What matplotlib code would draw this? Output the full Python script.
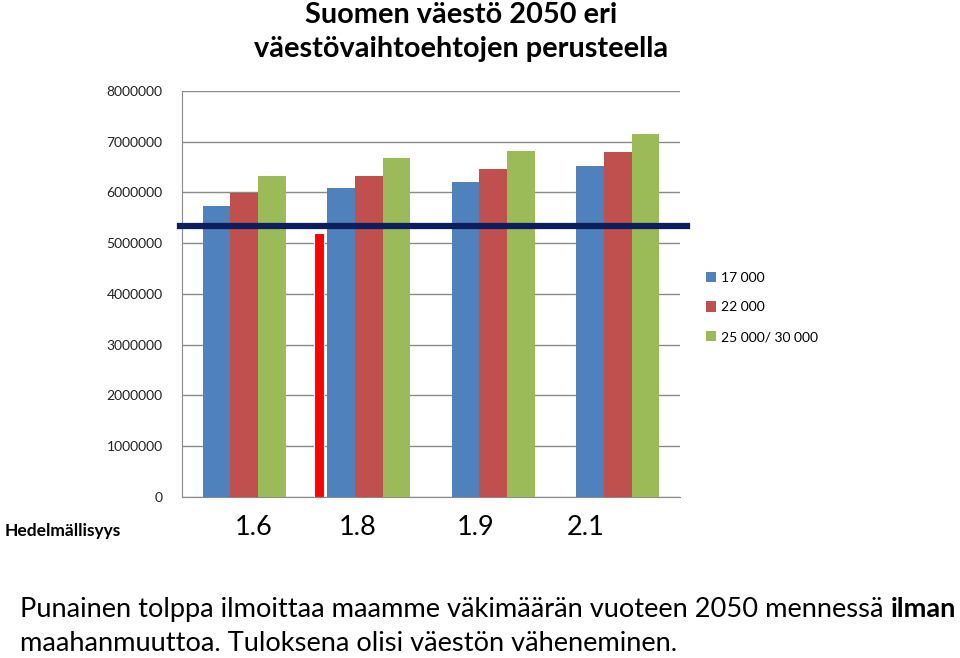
import matplotlib.pyplot as plt
import numpy as np

# väestö 2050 (milj.) eri nettomaahanmuuton tasoilla
fertility = ["1.6", "1.8", "1.9", "2.1"]
series_names = ["17 000", "22 000", "25 000/ 30 000"]
pop_17k = [5740000, 6080000, 6210000, 6520000]
pop_22k = [5990000, 6330000, 6460000, 6790000]
pop_30k = [6320000, 6670000, 6810000, 7150000]
now_level = 5330000          # tumma vaakaviiva
no_migration = 5200000       # punainen tolppa
yticks = [0, 1000000, 2000000, 3000000, 4000000, 5000000, 6000000, 7000000, 8000000]

colors = ["#4f81bd", "#c0504d", "#9bbb59"]

plt.rcParams['font.family'] = ['Lato', 'DejaVu Sans']

fig = plt.figure(figsize=(9.6, 6.58), dpi=100)
ax = fig.add_axes([0.1896, 0.2447, 0.5187, 0.617])

x = np.arange(len(fertility))
w = 0.222
for i, vals in enumerate([pop_17k, pop_22k, pop_30k]):
    ax.bar(x + (i - 1) * w, vals, width=w, color=colors[i], label=series_names[i], zorder=3)

# punainen tolppa: ei maahanmuuttoa
ax.bar(0.603, no_migration, width=0.08, color="#ff0000", edgecolor="white", linewidth=0.8, zorder=4)

ax.axhline(now_level, xmin=-0.005, xmax=1.015, color="#0c1f5c", linewidth=4.5, zorder=5, clip_on=False)

ax.set_xlim(-0.5, 3.5)
ax.set_ylim(0, 8000000)
ax.set_yticks(yticks)
ax.set_yticklabels([str(v) for v in yticks], fontsize=10, color="#222222")
ax.tick_params(axis='y', length=0, pad=14)
ax.set_xticks([])
ax.grid(axis='y', color="#8a8a8a", linewidth=1, zorder=0)
for s in ["top", "right"]:
    ax.spines[s].set_visible(False)
ax.spines["left"].set_color("#8a8a8a")
ax.spines["bottom"].set_color("#8a8a8a")

leg = ax.legend(loc="upper left", bbox_to_anchor=(1.027, 0.586), frameon=False, fontsize=10,
                handlelength=0.75, handleheight=0.75, handletextpad=0.35, labelspacing=1.28)

fig.text(0.48, 0.997, "Suomen väestö 2050 eri\nväestövaihtoehtojen perusteella", ha="center", va="top",
         fontsize=20.8, fontweight="bold", linespacing=1.36)

fig.text(0.005, 0.193, "Hedelmällisyys", fontsize=12.5, fontweight="bold", va="center")
label_x = [254, 358, 476, 586]
for lx, lab in zip(label_x, fertility):
    fig.text(lx / 960, 0.198, lab, fontsize=19.5, ha="center", va="center")

t1 = fig.text(0.021, 0.062, "Punainen tolppa ilmoittaa maamme väkimäärän vuoteen 2050 mennessä ",
              fontsize=19.6, va="baseline")
fig.canvas.draw()
bb = t1.get_window_extent()
fig.text(bb.x1 / 960, 0.062, "ilman", fontsize=19.6, fontweight="bold", va="baseline")
fig.text(0.021, 0.011, "maahanmuuttoa. Tuloksena olisi väestön väheneminen.", fontsize=19.6, va="baseline")

fig.savefig("out.png", dpi=100)
